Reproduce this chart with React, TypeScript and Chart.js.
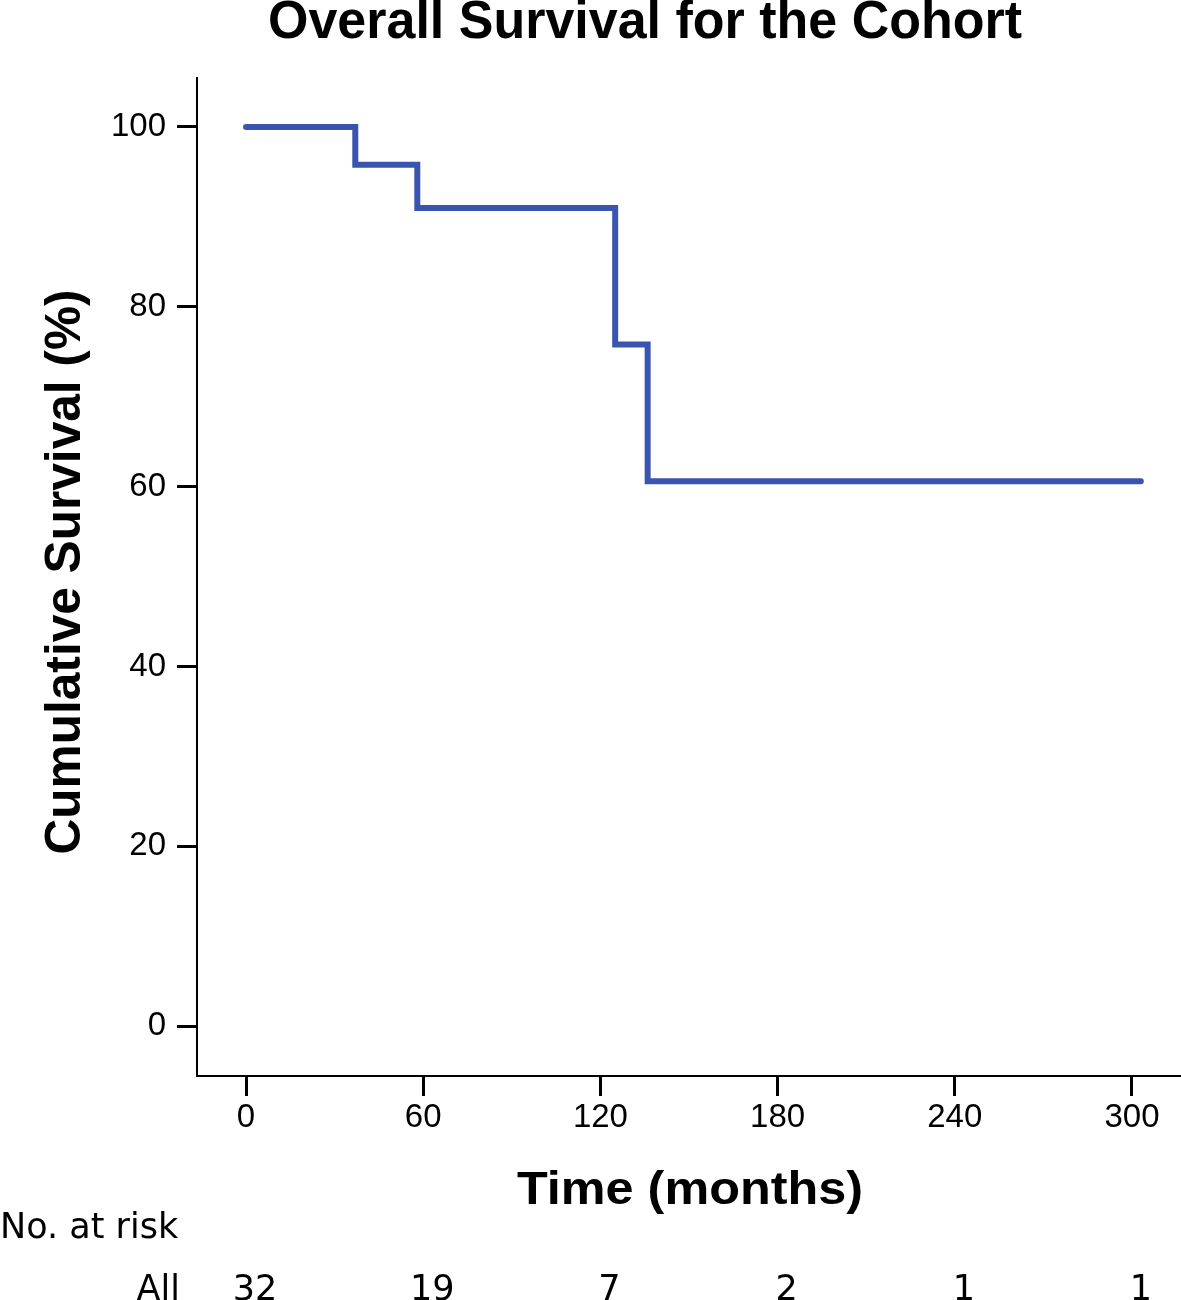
import { useEffect, useRef } from 'react';
import { Chart, registerables } from 'chart.js';

Chart.register(...registerables);

// Kaplan-Meier steps (time in months, survival %)
const eventTimes = [0, 37, 58, 125, 136, 303];
const survivalPct = [100, 95.8, 91.0, 75.8, 60.6, 60.6];

const xTickValues = [0, 60, 120, 180, 240, 300];
const yTickValues = [0, 20, 40, 60, 80, 100];

const riskTimes = [0, 60, 120, 180, 240, 300];
const riskCounts = [32, 19, 7, 2, 1, 1];

const chartTitle = 'Overall Survival for the Cohort';
const xTitle = 'Time (months)';
const yTitle = 'Cumulative Survival (%)';
const riskHeader = 'No. at risk';
const riskGroup = 'All';

const W = 1181;
const H = 1300;

function drawFitted(
  ctx: CanvasRenderingContext2D,
  text: string,
  x: number,
  y: number,
  font: string,
  targetWidth: number,
  align: CanvasTextAlign
) {
  ctx.save();
  ctx.font = font;
  const w = ctx.measureText(text).width;
  const sx = targetWidth / w;
  ctx.translate(x, y);
  ctx.scale(sx, 1);
  ctx.textAlign = align;
  ctx.textBaseline = 'alphabetic';
  ctx.fillText(text, 0, 0);
  ctx.restore();
}

const textPlugin = {
  id: 'kmText',
  afterDraw(chart: any) {
    const ctx: CanvasRenderingContext2D = chart.ctx;
    const xs = chart.scales.x;
    ctx.save();
    ctx.fillStyle = '#000';
    // title
    drawFitted(ctx, chartTitle, 268, 38, 'bold 53px "Liberation Sans", Arial, sans-serif', 754, 'left');
    // x title
    drawFitted(ctx, xTitle, 517, 1204, 'bold 46px "Liberation Sans", Arial, sans-serif', 346, 'left');
    // y title (rotated)
    ctx.save();
    ctx.translate(80, 572);
    ctx.rotate(-Math.PI / 2);
    drawFitted(ctx, yTitle, 0, 0, 'bold 50px "Liberation Sans", Arial, sans-serif', 565, 'center');
    ctx.restore();
    // risk table
    ctx.font = '35px "DejaVu Sans", Verdana, sans-serif';
    ctx.textBaseline = 'alphabetic';
    ctx.textAlign = 'left';
    ctx.fillText(riskHeader, 0, 1238);
    ctx.textAlign = 'right';
    ctx.fillText(riskGroup, 180, 1300);
    ctx.textAlign = 'center';
    riskTimes.forEach((t, i) => {
      ctx.fillText(String(riskCounts[i]), xs.getPixelForValue(t) + 9, 1300);
    });
    ctx.restore();
  },
};

export default function App() {
  const ref = useRef<HTMLCanvasElement | null>(null);

  useEffect(() => {
    document.body.style.margin = '0';
    const canvas = ref.current;
    if (!canvas) return;
    const tickFont = { family: '"Liberation Sans", Arial, sans-serif', size: 33 };
    const chart = new Chart(canvas, {
      type: 'line',
      data: {
        datasets: [
          {
            data: eventTimes.map((t, i) => ({ x: t, y: survivalPct[i] })),
            borderColor: '#3a55b0',
            borderWidth: 6,
            stepped: true,
            pointRadius: 0,
            fill: false,
            borderCapStyle: 'round',
            borderJoinStyle: 'miter',
          },
        ],
      },
      options: {
        animation: false,
        responsive: false,
        devicePixelRatio: 1,
        layout: { padding: { top: 78, left: 0, right: 0, bottom: 0 } },
        plugins: {
          legend: { display: false },
          title: { display: false },
          tooltip: { enabled: false },
        },
        scales: {
          x: {
            type: 'linear',
            min: -16.6,
            max: 316.6,
            afterFit: (s: any) => {
              s.height = H - 1076;
            },
            afterBuildTicks: (s: any) => {
              s.ticks = xTickValues.map((v) => ({ value: v }));
            },
            border: { display: true, color: '#000', width: 2 },
            grid: {
              display: true,
              drawOnChartArea: false,
              drawTicks: true,
              tickLength: 20,
              tickWidth: 3,
              tickColor: '#000',
            },
            ticks: {
              color: '#000',
              font: tickFont,
              padding: 2,
              maxRotation: 0,
              autoSkip: false,
            },
          },
          y: {
            type: 'linear',
            min: -5.56,
            max: 105.45,
            afterFit: (s: any) => {
              s.width = 197;
            },
            afterBuildTicks: (s: any) => {
              s.ticks = yTickValues.map((v) => ({ value: v }));
            },
            border: { display: true, color: '#000', width: 2 },
            grid: {
              display: true,
              drawOnChartArea: false,
              drawTicks: true,
              tickLength: 20,
              tickWidth: 3,
              tickColor: '#000',
            },
            ticks: {
              color: '#000',
              font: tickFont,
              padding: 11,
              autoSkip: false,
            },
          },
        },
      },
      plugins: [textPlugin],
    } as any);
    return () => chart.destroy();
  }, []);

  return (
    <canvas
      ref={ref}
      width={W}
      height={H}
      style={{ display: 'block', width: W, height: H }}
    />
  );
}
